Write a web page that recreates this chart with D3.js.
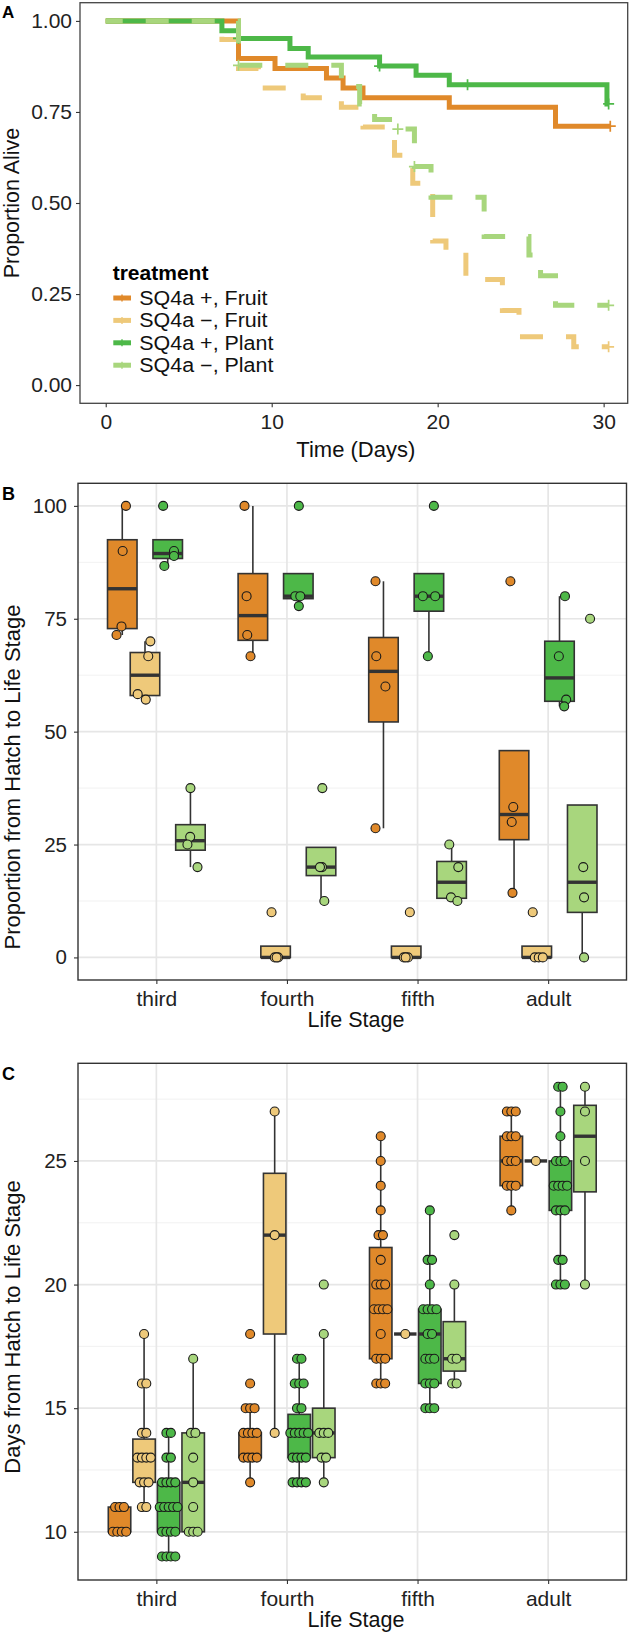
<!DOCTYPE html>
<html><head><meta charset="utf-8">
<script src="https://cdn.jsdelivr.net/npm/d3@7"></script>
<style>
body{margin:0;background:#fff}
text{font-family:"Liberation Sans",Arial,Helvetica,sans-serif}
</style>
</head><body>
<svg id="c" width="633" height="1638"></svg>
<script>
// ---------------- DATA ----------------
const treatments = ["SQ4a +, Fruit", "SQ4a \u2212, Fruit", "SQ4a +, Plant", "SQ4a \u2212, Plant"];
const treatColors = ["#E0892A", "#EEC97A", "#4DB848", "#A8D67D"];
const stageNames = ["third", "fourth", "fifth", "adult"];

// Panel A: Kaplan-Meier steps (time in days, proportion alive)
const kmFruitPlusT = [0, 8.0, 10.2, 13.3, 14.3, 15.5, 20.7, 27.1];
const kmFruitPlusS = [1, 0.897, 0.869, 0.843, 0.816, 0.789, 0.763, 0.711];
const kmFruitMinusT = [0, 7.0, 8.0, 9.2, 11.9, 14.2, 15.5, 17.4, 18.5, 19.7, 20.5, 21.7, 23.9, 24.9, 28.2];
const kmFruitMinusS = [1, 0.949, 0.869, 0.816, 0.789, 0.763, 0.709, 0.631, 0.554, 0.396, 0.368, 0.29, 0.205, 0.133, 0.105];
const kmPlantPlusT = [0, 7.0, 8.0, 11.1, 12.2, 16.5, 18.7, 20.7, 30.2];
const kmPlantPlusS = [1, 0.973, 0.952, 0.924, 0.901, 0.876, 0.851, 0.825, 0.772];
const kmPlantMinusT = [0, 8.0, 14.2, 15.3, 16.2, 17.6, 18.6, 19.6, 22.8, 25.5, 26.2, 27.1];
const kmPlantMinusS = [1, 0.878, 0.82, 0.772, 0.729, 0.703, 0.60, 0.516, 0.408, 0.357, 0.30, 0.219];
const kmEndTimes = [30.4, 30.3, 30.3, 30.3];
const censFruitPlus = [30.4];
const censFruitMinus = [30.3];
const censPlantPlus = [8.0, 16.5, 21.8, 30.3];
const censPlantMinus = [8.0, 17.6, 18.6, 30.3];
const timeTicks = [0, 10, 20, 30];
const propTicks = [0, 0.25, 0.5, 0.75, 1];

// Panel B: proportion from hatch to life stage (per stage: third, fourth, fifth, adult)
const propFruitPlus  = [[100, 90, 73.3, 71.4], [100, 80, 71.4, 66.7], [83.3, 66.7, 60, 28.6], [83.3, 33.3, 30, 14.3]];
const propFruitMinus = [[70, 66.7, 58.3, 57.1], [10, 0, 0, 0], [10, 0, 0, 0], [10, 0, 0, 0]];
const propPlantPlus  = [[100, 90, 88.9, 86.7], [100, 80, 80, 77.8], [100, 80, 80, 66.7], [80, 66.7, 57.1, 55.6]];
const propPlantMinus = [[37.5, 26.7, 25, 20], [37.5, 20, 20, 12.5], [25, 20, 13.3, 12.5], [75, 20, 13.3, 0]];
// horizontal jitter (category units)
const jitFruitPlus  = [[0.028, 0.003, -0.006, -0.044], [-0.064, -0.048, -0.043, -0.018], [-0.061, -0.055, 0.015, -0.061], [-0.028, -0.006, -0.018, -0.012]];
const jitFruitMinus = [[0.041, 0.025, -0.056, 0.006], [-0.031, -0.006, 0.019, 0.008], [0.028, -0.018, 0.013, -0.004], [-0.031, -0.015, 0.015, 0.046]];
const jitPlantPlus  = [[-0.035, 0.048, 0.048, -0.026], [0.004, -0.023, 0.015, 0.004], [0.038, -0.046, 0.048, -0.008], [0.042, -0.005, 0.051, 0.036]];
const jitPlantMinus = [[0, -0.002, -0.023, 0.054], [0.010, 0.007, -0.008, 0.025], [-0.018, 0.051, -0.005, 0.044], [0.060, 0.008, 0.014, 0.014]];
const propAxisTicks = [0, 25, 50, 75, 100];

// Panel C: days from hatch to life stage
const daysFruitPlus = [
  [10, 10, 10, 10, 11, 11, 11],
  [12, 13, 13, 13, 13, 14, 14, 14, 14, 15, 15, 15, 16, 18],
  [16, 16, 16, 17, 17, 17, 18, 19, 19, 19, 19, 20, 20, 20, 21, 22, 22, 23, 24, 25, 26],
  [23, 24, 24, 24, 25, 25, 25, 26, 26, 26, 27, 27, 27]];
const daysFruitMinus = [
  [11, 11, 12, 12, 12, 13, 13, 13, 13, 14, 14, 16, 16, 18],
  [14, 22, 27],
  [18],
  [25]];
const daysPlantPlus = [
  [9, 9, 9, 9, 10, 10, 10, 10, 11, 11, 11, 11, 11, 12, 12, 12, 12, 13, 13, 14, 14],
  [12, 12, 12, 12, 13, 13, 13, 13, 14, 14, 14, 14, 14, 15, 15, 16, 16, 16, 17, 17],
  [15, 15, 15, 16, 16, 16, 17, 17, 17, 18, 18, 19, 19, 19, 19, 20, 21, 21, 23],
  [20, 20, 20, 21, 21, 23, 23, 23, 24, 24, 24, 24, 25, 25, 25, 26, 27, 28, 28]];
const daysPlantMinus = [
  [10, 10, 10, 11, 12, 13, 14, 14, 17],
  [12, 13, 13, 14, 14, 14, 18, 20],
  [16, 16, 17, 17, 20, 22],
  [20, 25, 27, 28]];
// box statistics: [q1, median, q3, whisker low, whisker high]
const boxCFruitPlus  = [[10, 10, 11, 10, 11], [13, 14, 14, 12, 15], [17, 19, 21.5, 16, 26], [24, 25, 26, 23, 27]];
const boxCFruitMinus = [[12, 13, 13.75, 11, 18], [18, 22, 24.5, 14, 27], [18, 18, 18, 18, 18], [25, 25, 25, 25, 25]];
const boxCPlantPlus  = [[10, 11, 12, 9, 14], [13, 14, 14.75, 12, 17], [16, 18, 19, 15, 23], [23, 24, 25, 20, 28]];
const boxCPlantMinus = [[10, 12, 14, 10, 17], [13, 14, 15, 12, 18], [16.5, 17, 18.5, 16, 20], [23.75, 26, 27.25, 20, 28]];
const dayTicks = [10, 15, 20, 25];

// ---------------- DRAW ----------------
const svg = d3.select("#c");
svg.append("rect").attr("width", 633).attr("height", 1638).attr("fill", "#fff");
const DARK = "#333";

function panelLabel(t, x, y, size) {
  svg.append("text").attr("x", x).attr("y", y).attr("font-size", size)
    .attr("font-weight", "bold").attr("fill", "#000").text(t);
}
function styleAxis(g, size) {
  g.select(".domain").remove();
  g.selectAll(".tick line").attr("stroke", DARK).attr("stroke-width", 1.1);
  g.selectAll(".tick text").attr("fill", "#222").attr("font-size", size)
    .attr("font-family", "Liberation Sans, Arial, sans-serif");
}

// ===== Panel A =====
const ax = d3.scaleLinear().domain([-1.55, 31.45]).range([80, 627.7]);
const ay = d3.scaleLinear().domain([-0.05, 1.05]).range([403.3, 2.7]);
const gA = svg.append("g");

const kmSeries = [
  {t: kmFruitPlusT, s: kmFruitPlusS, cens: censFruitPlus, dash: null},
  {t: kmFruitMinusT, s: kmFruitMinusS, cens: censFruitMinus, dash: "23 23"},
  {t: kmPlantPlusT, s: kmPlantPlusS, cens: censPlantPlus, dash: null},
  {t: kmPlantMinusT, s: kmPlantMinusS, cens: censPlantMinus, dash: "23 23"}
];
const stepLine = d3.line().x(d => ax(d[0])).y(d => ay(d[1])).curve(d3.curveStepAfter);
kmSeries.forEach((k, i) => {
  const pts = k.t.map((t, j) => [t, k.s[j]]);
  pts.push([kmEndTimes[i], k.s[k.s.length - 1]]);
  const p = gA.append("path").attr("d", stepLine(pts)).attr("fill", "none")
    .attr("stroke", treatColors[i]).attr("stroke-width", 5).attr("stroke-linejoin", "miter");
  if (k.dash) p.attr("stroke-dasharray", k.dash).attr("stroke-dashoffset", 6);
  const survAt = t => { let v = 1; k.t.forEach((tt, j) => { if (tt <= t) v = k.s[j]; }); return v; };
  k.cens.forEach(ct => {
    gA.append("path").attr("d", "M-5.5,0H5.5M0,-5.5V5.5")
      .attr("transform", `translate(${ax(ct)},${ay(survAt(ct))})`)
      .attr("stroke", treatColors[i]).attr("stroke-width", 1.7).attr("fill", "none");
  });
});
gA.append("rect").attr("x", 80).attr("y", 2.7).attr("width", 547.7).attr("height", 400.6)
  .attr("fill", "none").attr("stroke", "#444").attr("stroke-width", 1.3);
const axAy = gA.append("g").attr("transform", "translate(80,0)")
  .call(d3.axisLeft(ay).tickValues(propTicks).tickFormat(d3.format(".2f")).tickSize(4).tickPadding(4));
styleAxis(axAy, 21);
const axAx = gA.append("g").attr("transform", "translate(0,403.3)")
  .call(d3.axisBottom(ax).tickValues(timeTicks).tickSize(4).tickPadding(7));
styleAxis(axAx, 21);
svg.append("text").attr("x", 355.8).attr("y", 457).attr("text-anchor", "middle")
  .attr("font-size", 22).attr("fill", "#111").text("Time (Days)");
svg.append("text").attr("transform", "translate(19,203) rotate(-90)").attr("text-anchor", "middle")
  .attr("font-size", 21.5).attr("fill", "#111").text("Proportion Alive");
panelLabel("A", 2, 18, 17);

// legend
const lg = svg.append("g");
lg.append("text").attr("x", 112.7).attr("y", 280).attr("font-size", 21).attr("font-weight", "bold")
  .attr("fill", "#000").text("treatment");
treatments.forEach((t, i) => {
  const yy = 298 + i * 22.4;
  lg.append("line").attr("x1", 113.3).attr("x2", 131).attr("y1", yy).attr("y2", yy)
    .attr("stroke", treatColors[i]).attr("stroke-width", 5);
  lg.append("path").attr("d", "M-3.5,0H3.5M0,-3.5V3.5").attr("transform", `translate(122,${yy})`)
    .attr("stroke", treatColors[i]).attr("stroke-width", 1.4);
  const tx = lg.append("text").attr("x", 139.3).attr("y", yy).attr("dy", "0.36em").attr("font-size", 19.5)
    .attr("fill", "#111").text(t);
  const w = tx.node().getComputedTextLength();
  tx.attr("textLength", w * 1.1).attr("lengthAdjust", "spacingAndGlyphs");
});

// ===== box panels =====
function boxStats(vals) {
  const s = vals.slice().sort(d3.ascending);
  const q1 = d3.quantileSorted(s, 0.25), med = d3.quantileSorted(s, 0.5), q3 = d3.quantileSorted(s, 0.75);
  const iqr = q3 - q1;
  const lo = d3.min(s.filter(v => v >= q1 - 1.5 * iqr));
  const hi = d3.max(s.filter(v => v <= q3 + 1.5 * iqr));
  return [q1, med, q3, lo, hi];
}

function boxPanel(opt) {
  const {top, bottom, yDomain, yTicks, minor, stats, points, jitter, offsets, width, yTitle, yTitleY, label, labelY} = opt;
  const left = 78, right = 626.5;
  const x = d3.scaleLinear().domain([0.4, 4.6]).range([left, right]);
  const y = d3.scaleLinear().domain(yDomain).range([bottom, top]);
  const g = svg.append("g");
  // grid
  minor.forEach(v => g.append("line").attr("x1", left).attr("x2", right).attr("y1", y(v)).attr("y2", y(v))
    .attr("stroke", "#EFEFEF").attr("stroke-width", 0.9));
  yTicks.forEach(v => g.append("line").attr("x1", left).attr("x2", right).attr("y1", y(v)).attr("y2", y(v))
    .attr("stroke", "#E6E6E6").attr("stroke-width", 1.7));
  stageNames.forEach((s, i) => g.append("line").attr("x1", x(i + 1)).attr("x2", x(i + 1)).attr("y1", top).attr("y2", bottom)
    .attr("stroke", "#E6E6E6").attr("stroke-width", 1.7));
  // boxes
  for (let si = 0; si < 4; si++) {
    for (let ti = 0; ti < 4; ti++) {
      const st = stats[ti][si];
      const cx = x(si + 1 + offsets[ti]);
      const hw = (x(width) - x(0)) / 2;
      g.append("line").attr("x1", cx).attr("x2", cx).attr("y1", y(st[4])).attr("y2", y(st[3]))
        .attr("stroke", DARK).attr("stroke-width", 1.6);
      g.append("rect").attr("x", cx - hw).attr("y", y(st[2])).attr("width", 2 * hw)
        .attr("height", Math.max(0, y(st[0]) - y(st[2])))
        .attr("fill", treatColors[ti]).attr("stroke", DARK).attr("stroke-width", 1.6);
      g.append("line").attr("x1", cx - hw).attr("x2", cx + hw).attr("y1", y(st[1])).attr("y2", y(st[1]))
        .attr("stroke", DARK).attr("stroke-width", 3.4);
    }
  }
  // points
  for (let si = 0; si < 4; si++) {
    for (let ti = 0; ti < 4; ti++) {
      const vals = points[ti][si];
      vals.forEach((v, k) => {
        const jx = jitter(ti, si, k, vals);
        g.append("circle").attr("cx", x(si + 1 + offsets[ti] + jx)).attr("cy", y(v)).attr("r", 4.5)
          .attr("fill", treatColors[ti]).attr("stroke", "#1a1a1a").attr("stroke-width", 1.1);
      });
    }
  }
  g.append("rect").attr("x", left).attr("y", top).attr("width", right - left).attr("height", bottom - top)
    .attr("fill", "none").attr("stroke", DARK).attr("stroke-width", 1.4);
  const ya = g.append("g").attr("transform", `translate(${left},0)`)
    .call(d3.axisLeft(y).tickValues(yTicks).tickSize(4).tickPadding(7));
  styleAxis(ya, 20.5);
  const xa = g.append("g").attr("transform", `translate(0,${bottom})`)
    .call(d3.axisBottom(x).tickValues([1, 2, 3, 4]).tickFormat((d, i) => stageNames[i]).tickSize(4).tickPadding(3));
  styleAxis(xa, 21);
  xa.selectAll(".tick text").attr("dy", "0.9em");
  svg.append("text").attr("x", 356).attr("y", bottom + 47).attr("text-anchor", "middle")
    .attr("font-size", 21.5).attr("fill", "#111").text("Life Stage");
  svg.append("text").attr("transform", `translate(20,${yTitleY}) rotate(-90)`).attr("text-anchor", "middle")
    .attr("font-size", 22).attr("fill", "#111").text(yTitle);
  panelLabel(label, 2, labelY, 18);
}

// Panel B
const propAll = [propFruitPlus, propFruitMinus, propPlantPlus, propPlantMinus];
const jitAll = [jitFruitPlus, jitFruitMinus, jitPlantPlus, jitPlantMinus];
boxPanel({
  top: 483.3, bottom: 980, yDomain: [-5, 105], yTicks: propAxisTicks, minor: [12.5, 37.5, 62.5, 87.5],
  stats: propAll.map(tr => tr.map(boxStats)), points: propAll,
  jitter: (ti, si, k) => jitAll[ti][si][k],
  offsets: [-0.261, -0.087, 0.087, 0.261], width: 0.226,
  yTitle: "Proportion from Hatch to Life Stage", yTitleY: 777, label: "B", labelY: 500
});

// Panel C
const daysAll = [daysFruitPlus, daysFruitMinus, daysPlantPlus, daysPlantMinus];
const boxCAll = [boxCFruitPlus, boxCFruitMinus, boxCPlantPlus, boxCPlantMinus];
boxPanel({
  top: 1063.3, bottom: 1580, yDomain: [8.05, 28.95], yTicks: dayTicks, minor: [12.5, 17.5, 22.5, 27.5],
  stats: boxCAll, points: daysAll,
  jitter: (ti, si, k, vals) => {
    const same = vals.filter(v => v === vals[k]).length;
    const idx = vals.slice(0, k).filter(v => v === vals[k]).length;
    return (idx - (same - 1) / 2) * 0.034;
  },
  offsets: [-0.282, -0.094, 0.094, 0.282], width: 0.172,
  yTitle: "Days from Hatch to Life Stage", yTitleY: 1327, label: "C", labelY: 1080
});
</script>
</body></html>
